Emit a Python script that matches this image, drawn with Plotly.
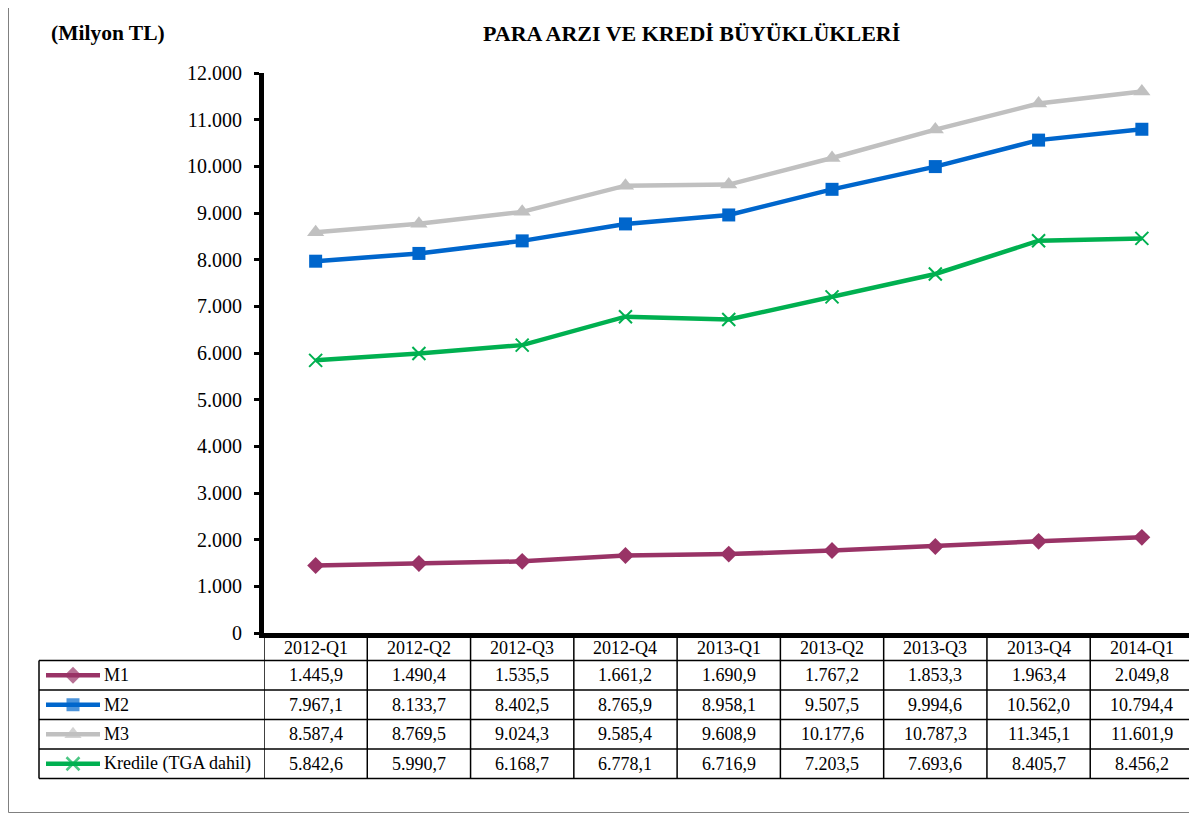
import plotly.graph_objects as go

# ---- data ----
categories = ["2012-Q1", "2012-Q2", "2012-Q3", "2012-Q4", "2013-Q1",
              "2013-Q2", "2013-Q3", "2013-Q4", "2014-Q1"]
m1 = [1445.9, 1490.4, 1535.5, 1661.2, 1690.9, 1767.2, 1853.3, 1963.4, 2049.8]
m2 = [7967.1, 8133.7, 8402.5, 8765.9, 8958.1, 9507.5, 9994.6, 10562.0, 10794.4]
m3 = [8587.4, 8769.5, 9024.3, 9585.4, 9608.9, 10177.6, 10787.3, 11345.1, 11601.9]
kredi = [5842.6, 5990.7, 6168.7, 6778.1, 6716.9, 7203.5, 7693.6, 8405.7, 8456.2]
series_names = ["M1", "M2", "M3", "Kredile (TGA dahil)"]
y_ticks = [0, 1000, 2000, 3000, 4000, 5000, 6000, 7000, 8000, 9000, 10000, 11000, 12000]
title_text = "PARA ARZI VE KREDİ BÜYÜKLÜKLERİ"
unit_text = "(Milyon TL)"

# ---- styles ----
OFF = 8                      # page body margin
SW, SH = 1197, 814           # screen size
W, H = SW - OFF, SH - OFF    # figure size
FONT = "Liberation Serif, Times New Roman, serif"
colors = ["#993366", "#0066CC", "#C0C0C0", "#00B050"]
symbols = ["diamond", "square", "triangle-up", "x-thin"]
msizes = [13, 13, 15, 13]

# plot area in screen pixels
PL, PR, PT, PB = 264, 1193.5, 73, 633


def tr_fmt(v, dec=1):
    s = f"{v:,.{dec}f}"
    return s.replace(",", "#").replace(".", ",").replace("#", ".")


fig = go.Figure()
series = [m1, m2, m3, kredi]
for name, vals, c, sym, ms in zip(series_names, series, colors, symbols, msizes):
    marker = dict(symbol=sym, size=ms, color=c)
    if sym == "x-thin":
        marker["line"] = dict(color=c, width=2)
    fig.add_trace(go.Scatter(
        x=categories, y=vals, name=name, mode="lines+markers",
        line=dict(color=c, width=4.5), marker=marker, showlegend=False,
        xaxis="x", yaxis="y", cliponaxis=False))

# ---- table (pixel axes x2/y2 covering the whole figure, in screen coords) ----
row_lines = [660.5, 690, 719.5, 749, 778.5]
header_y = 648
shapes = []
annotations = []
# outer border of the figure
shapes.append(dict(type="rect", xref="x2", yref="y2", x0=OFF + 0.5, x1=1195.5, y0=-5, y1=812.5,
                   line=dict(color="#808080", width=1)))
# horizontal row lines
for i, yy in enumerate(row_lines):
    shapes.append(dict(type="line", xref="x2", yref="y2", x0=39, x1=PR, y0=yy, y1=yy,
                       line=dict(color="black", width=1.5)))
# left border of legend column
shapes.append(dict(type="line", xref="x2", yref="y2", x0=39, x1=39, y0=row_lines[0], y1=row_lines[-1],
                   line=dict(color="black", width=1.5)))
# column lines
for i in range(len(categories) + 1):
    shapes.append(dict(type="line", xref="x", yref="y2", x0=i - 0.5, x1=i - 0.5,
                       y0=PB, y1=row_lines[-1], line=dict(color="black", width=1.5)))
# header labels
for c in categories:
    annotations.append(dict(x=c, y=header_y, xref="x", yref="y2", text=c, showarrow=False,
                            font=dict(family=FONT, size=18, color="black")))
# values & legend keys
for r, (name, vals, c, sym, ms) in enumerate(zip(series_names, series, colors, symbols, msizes)):
    yc = (row_lines[r] + row_lines[r + 1]) / 2
    for cat, v in zip(categories, vals):
        annotations.append(dict(x=cat, y=yc, xref="x", yref="y2", text=tr_fmt(v), showarrow=False,
                                font=dict(family=FONT, size=18, color="black")))
    annotations.append(dict(x=102, y=yc, xref="x2", yref="y2", text=name, showarrow=False,
                            xanchor="left", font=dict(family=FONT, size=18, color="black")))
    mline = dict(color=c, width=2.5) if sym == "x-thin" else dict(width=0)
    fig.add_trace(go.Scatter(x=[46, 73, 100], y=[yc, yc, yc], mode="lines+markers",
                             line=dict(color=c, width=4.5),
                             marker=dict(symbol=sym, size=[0, ms, 0], color=c, line=mline),
                             xaxis="x2", yaxis="y2", showlegend=False, hoverinfo="skip"))

# title texts
annotations.append(dict(x=691, y=33, xref="x2", yref="y2", text=f"<b>{title_text}</b>", showarrow=False,
                        font=dict(family=FONT, size=22, color="black")))
annotations.append(dict(x=49, y=33, xref="x2", yref="y2", text=f"<b>{unit_text}</b>", showarrow=False,
                        xanchor="left", font=dict(family=FONT, size=21.5, color="black")))

fig.update_layout(
    width=W, height=H,
    margin=dict(l=0, r=0, t=0, b=0, autoexpand=False),
    paper_bgcolor="white", plot_bgcolor="rgba(0,0,0,0)",
    showlegend=False,
    xaxis=dict(domain=[(PL - OFF) / W, (PR - OFF) / W], type="category",
               range=[-0.5, len(categories) - 0.5],
               showticklabels=False, ticks="", showgrid=False, zeroline=False, automargin=False,
               showline=True, linecolor="black", linewidth=5, fixedrange=True, anchor="y"),
    yaxis=dict(domain=[1 - (PB - OFF) / H, 1 - (PT - OFF) / H], range=[0, 12000], tickvals=y_ticks,
               ticktext=[tr_fmt(v, 0) for v in y_ticks], ticks="outside", ticklen=5, tickwidth=3,
               tickcolor="black", showgrid=False, zeroline=False, showline=True, automargin=False,
               linecolor="black", linewidth=5, ticklabelstandoff=8, anchor="x",
               tickfont=dict(family=FONT, size=20, color="black"), fixedrange=True),
    xaxis2=dict(domain=[0, 1], range=[OFF, SW], visible=False, anchor="y2", fixedrange=True,
                automargin=False),
    yaxis2=dict(domain=[0, 1], range=[SH, OFF], visible=False, anchor="x2", fixedrange=True,
                automargin=False),
    shapes=shapes,
    annotations=annotations,
)

fig.write_html("out.html")
